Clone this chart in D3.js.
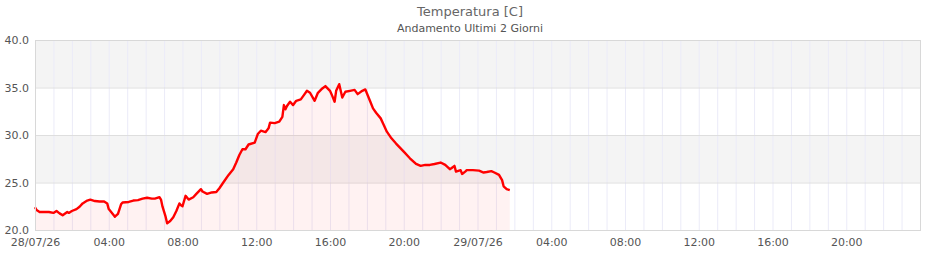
<!DOCTYPE html>
<html>
<head>
<meta charset="utf-8">
<script src="https://cdn.jsdelivr.net/npm/d3@7"></script>
<style>
body { margin: 0; background: #fff; }
text { font-family: "DejaVu Sans", Verdana, sans-serif; }
.axis path, .axis line { stroke: none; }
.axis text { fill: #555; font-size: 11px; }
.vgrid line { stroke: #ebebf8; stroke-width: 1; }
.vgrid path { stroke: none; }
.hgrid line { stroke: #dedede; stroke-width: 1; }
.hgrid path { stroke: none; }
</style>
</head>
<body>
<script>
// minutes since 28/07/26 00:00
var minutes = [0,5,15,25,45,60,70,80,90,105,110,120,135,145,155,170,180,195,210,225,235,240,255,260,270,280,285,305,320,335,350,365,380,390,405,410,415,425,430,440,450,460,470,475,480,490,500,515,525,540,545,560,575,590,600,615,630,645,655,665,675,685,695,715,725,735,750,760,765,780,795,805,810,815,820,830,840,850,865,875,885,895,910,920,935,945,960,965,975,980,990,1000,1010,1025,1040,1050,1065,1075,1080,1090,1100,1110,1125,1135,1145,1160,1175,1200,1220,1240,1255,1270,1285,1300,1320,1335,1350,1355,1365,1370,1385,1390,1400,1405,1425,1445,1460,1470,1485,1495,1510,1520,1525,1535,1545];
var temps = [22.4,22.1,21.9,21.9,21.9,21.8,22.0,21.75,21.55,21.9,21.8,22.0,22.2,22.45,22.8,23.1,23.2,23.05,23.0,23.0,22.8,22.2,21.6,21.4,21.7,22.7,22.9,22.95,23.1,23.15,23.3,23.4,23.3,23.3,23.45,23.2,22.45,21.4,20.7,20.95,21.35,22.0,22.8,22.6,22.5,23.6,23.2,23.45,23.8,24.3,24.05,23.8,23.95,24.0,24.4,25.1,25.8,26.4,27.1,27.9,28.5,28.5,29.0,29.2,30.1,30.45,30.3,30.7,31.3,31.25,31.4,31.9,33.15,32.7,33.05,33.5,33.15,33.6,33.75,34.2,34.65,34.45,33.6,34.4,34.9,35.15,34.65,34.3,33.5,34.65,35.35,33.95,34.55,34.65,34.75,34.3,34.65,34.8,34.4,33.6,32.8,32.35,31.75,31.05,30.35,29.65,29.1,28.25,27.55,26.95,26.75,26.85,26.85,26.95,27.1,26.85,26.4,26.5,26.75,26.15,26.3,25.9,26.15,26.3,26.3,26.25,26.05,26.1,26.2,26.05,25.8,25.25,24.6,24.3,24.2];

var xTickMinutes = [0,240,480,720,960,1200,1440,1680,1920,2160,2400,2640];
var xTickLabels = ["28/07/26","04:00","08:00","12:00","16:00","20:00","29/07/26","04:00","08:00","12:00","16:00","20:00"];
var yTicks = [20,25,30,35,40];
var bands = [[35,40],[25,30]];

var title = "Temperatura [C]";
var subtitle = "Andamento Ultimi 2 Giorni";

var points = minutes.map(function(m, i){ return {m: m, v: temps[i]}; });

var xScale = d3.scaleLinear().domain([0,2880]).range([35,920]);
var yScale = d3.scaleLinear().domain([20,40]).range([230,40]);

var svg = d3.select("body").append("svg")
    .attr("width", 940)
    .attr("height", 260);

// alternating bands
svg.selectAll("rect.band").data(bands).enter().append("rect")
    .attr("class","band")
    .attr("x", xScale(0))
    .attr("width", xScale(2880) - xScale(0))
    .attr("y", function(d){ return yScale(d[1]); })
    .attr("height", function(d){ return yScale(d[0]) - yScale(d[1]); })
    .attr("fill", "#f4f4f4");

// hourly vertical grid
svg.append("g")
    .attr("class","vgrid")
    .attr("transform","translate(0,230)")
    .call(d3.axisBottom(xScale).tickValues(d3.range(60,2880,60)).tickSize(-190).tickFormat(""));

// horizontal grid
svg.append("g")
    .attr("class","hgrid")
    .attr("transform","translate(35,0)")
    .call(d3.axisLeft(yScale).tickValues(yTicks).tickSize(-885).tickFormat(""));

// area + line
var area = d3.area()
    .x(function(d){ return xScale(d.m); })
    .y0(yScale(20))
    .y1(function(d){ return yScale(d.v); });

var line = d3.line()
    .x(function(d){ return xScale(d.m); })
    .y(function(d){ return yScale(d.v); });

svg.append("path").datum(points)
    .attr("d", area)
    .attr("fill", "rgba(255,0,0,0.05)");

svg.append("path").datum(points)
    .attr("d", line)
    .attr("fill", "none")
    .attr("stroke", "#ff0000")
    .attr("stroke-width", 2.4)
    .attr("stroke-linejoin", "round");

// plot border
svg.append("rect")
    .attr("x", xScale(0) + 0.5)
    .attr("y", yScale(40) + 0.5)
    .attr("width", xScale(2880) - xScale(0))
    .attr("height", yScale(20) - yScale(40))
    .attr("fill", "none")
    .attr("stroke", "#d8d8d8");

// axes
svg.append("g")
    .attr("class","axis")
    .attr("transform","translate(0,230)")
    .call(d3.axisBottom(xScale).tickValues(xTickMinutes).tickSize(0).tickPadding(8)
        .tickFormat(function(d, i){ return xTickLabels[i]; }));

svg.append("g")
    .attr("class","axis")
    .attr("transform","translate(35,0)")
    .call(d3.axisLeft(yScale).tickValues(yTicks).tickSize(0).tickPadding(6)
        .tickFormat(d3.format(".1f")));

// titles
svg.append("text")
    .attr("x", 470).attr("y", 16)
    .attr("text-anchor","middle")
    .attr("fill","#666")
    .style("font-size","13px")
    .text(title);

svg.append("text")
    .attr("x", 470).attr("y", 32)
    .attr("text-anchor","middle")
    .attr("fill","#555")
    .style("font-size","11px")
    .text(subtitle);
</script>
</body>
</html>
